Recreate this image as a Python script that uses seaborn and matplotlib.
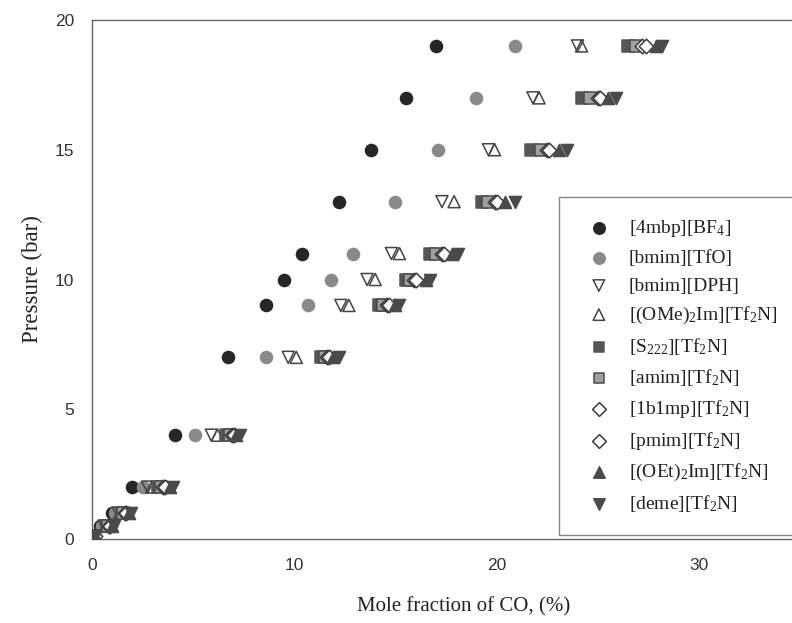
import matplotlib
matplotlib.use("Agg")
import matplotlib.pyplot as plt
import seaborn as sns
import pandas as pd

# Equilibrium pressures (bar) shared by all ionic liquids
pressure = [0.1, 0.5, 1, 2, 4, 7, 9, 10, 11, 13, 15, 17, 19]

# CO mole fraction (%) for each ionic liquid at the pressures above
x_4mbp_bf4 = [0.05, 0.4, 1.0, 2.0, 4.1, 6.7, 8.6, 9.5, 10.4, 12.2, 13.8, 15.5, 17.0]
x_bmim_tfo = [0.06, 0.5, 1.15, 2.5, 5.1, 8.6, 10.7, 11.8, 12.9, 15.0, 17.1, 19.0, 20.9]
x_bmim_dph = [0.08, 0.6, 1.3, 2.75, 5.9, 9.7, 12.3, 13.6, 14.8, 17.3, 19.6, 21.8, 24.0]
x_ome2im_tf2n = [0.09, 0.65, 1.35, 2.95, 6.2, 10.1, 12.7, 14.0, 15.2, 17.9, 19.9, 22.1, 24.2]
x_s222_tf2n = [0.1, 0.75, 1.5, 3.25, 6.6, 11.3, 14.2, 15.5, 16.7, 19.3, 21.7, 24.2, 26.5]
x_amim_tf2n = [0.11, 0.8, 1.55, 3.4, 6.8, 11.5, 14.4, 15.7, 17.0, 19.6, 22.2, 24.6, 26.9]
x_1b1mp_tf2n = [0.12, 0.85, 1.65, 3.5, 6.9, 11.6, 14.6, 15.9, 17.3, 19.9, 22.5, 25.0, 27.2]
x_pmim_tf2n = [0.13, 0.9, 1.7, 3.6, 7.0, 11.7, 14.7, 16.0, 17.4, 20.0, 22.6, 25.1, 27.4]
x_oet2im_tf2n = [0.14, 1.0, 1.85, 3.85, 7.1, 11.9, 15.0, 16.5, 17.8, 20.4, 23.1, 25.5, 27.9]
x_deme_tf2n = [0.15, 1.1, 1.95, 4.0, 7.3, 12.2, 15.2, 16.7, 18.1, 20.9, 23.5, 25.9, 28.2]

labels = [
    r"[4mbp][BF$_4$]",
    r"[bmim][TfO]",
    r"[bmim][DPH]",
    r"[(OMe)$_2$Im][Tf$_2$N]",
    r"[S$_{222}$][Tf$_2$N]",
    r"[amim][Tf$_2$N]",
    r"[1b1mp][Tf$_2$N]",
    r"[pmim][Tf$_2$N]",
    r"[(OEt)$_2$Im][Tf$_2$N]",
    r"[deme][Tf$_2$N]",
]
series = [x_4mbp_bf4, x_bmim_tfo, x_bmim_dph, x_ome2im_tf2n, x_s222_tf2n,
          x_amim_tf2n, x_1b1mp_tf2n, x_pmim_tf2n, x_oet2im_tf2n, x_deme_tf2n]

# marker, face colour, edge colour
styles = [
    ("o", "#262626", "#262626"),
    ("o", "#8a8a8a", "#8a8a8a"),
    ("v", "none", "#444444"),
    ("^", "none", "#444444"),
    ("s", "#555555", "#555555"),
    ("s", "#a0a0a0", "#4a4a4a"),
    ("D", "white", "#3a3a3a"),
    ("D", "white", "#3a3a3a"),
    ("^", "#4a4a4a", "#4a4a4a"),
    ("v", "#4a4a4a", "#4a4a4a"),
]
sizes = [75, 75, 75, 75, 65, 65, 55, 55, 75, 75]

df = pd.concat(
    [pd.DataFrame({"x": xs, "P": pressure, "liquid": lab}) for xs, lab in zip(series, labels)],
    ignore_index=True,
)

sns.set_style("white")
plt.rcParams["font.family"] = ["Liberation Serif", "DejaVu Serif"]
plt.rcParams["mathtext.fontset"] = "custom"
plt.rcParams["mathtext.rm"] = "Liberation Serif"
plt.rcParams["mathtext.it"] = "Liberation Serif:italic"

fig = plt.figure(figsize=(7.92, 6.23), dpi=100)
ax = fig.add_axes([92 / 792, 84 / 623, (800 - 92) / 792, (539 - 20) / 623])

for lab, (m, fc, ec), s in zip(labels, styles, sizes):
    sub = df[df["liquid"] == lab]
    sns.scatterplot(data=sub, x="x", y="P", ax=ax, marker=m, s=s,
                    facecolors=fc, edgecolors=ec, linewidths=1.1, label=lab, zorder=3)

ax.set_xlim(0, 35)
ax.set_ylim(0, 20)
ax.set_xticks([0, 10, 20, 30])
ax.set_yticks([0, 5, 10, 15, 20])

for sp in ("left", "bottom", "top"):
    ax.spines[sp].set_color("#666666")
    ax.spines[sp].set_linewidth(1.0)
ax.spines["right"].set_visible(False)

ax.tick_params(axis="both", which="major", direction="out", length=4, width=0.8,
               color="#999999", labelcolor="#333333", labelsize=12.5, pad=10)
for t in ax.get_xticklabels() + ax.get_yticklabels():
    t.set_family(["Liberation Sans", "DejaVu Sans"])
ax.tick_params(axis="y", pad=9)

ax.set_xlabel("Mole fraction of CO, (%)", fontsize=15, color="#222222")
ax.xaxis.set_label_coords((464 - 92) / 708, -58 / 519)
ax.set_ylabel("Pressure (bar)", fontsize=16.5, color="#222222", labelpad=8)

leg = ax.legend(loc="upper left", bbox_to_anchor=(559 / 792, 1 - 197 / 623),
                bbox_transform=fig.transFigure, frameon=True, fancybox=False,
                fontsize=14, labelspacing=0.515, handletextpad=0.6,
                borderpad=1.1, borderaxespad=0, markerscale=0.95, handlelength=1.9)
leg.get_frame().set_edgecolor("#666666")
leg.get_frame().set_linewidth(1.0)
for t in leg.get_texts():
    t.set_color("#222222")

fig.savefig("out.png", dpi=100)
